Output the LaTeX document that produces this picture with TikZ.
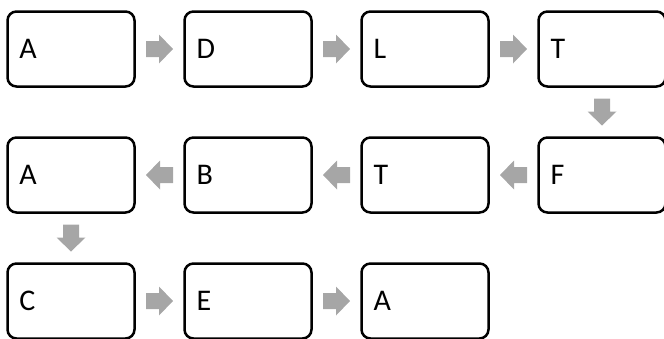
\documentclass[tikz,border=0pt]{standalone}
\usepackage{fontspec}
\setmainfont{Carlito}
\usetikzlibrary{calc,positioning}
\colorlet{arrowgray}{black!35}
\tikzstyle{box}=[draw,line width=2.5,rounded corners=9,outer sep=0,
  minimum width=127,minimum height=75,inner xsep=12,text width=103,align=left,
  font=\fontsize{30}{36}\selectfont]
\def\blockarrow#1#2#3{% from, to, angle
  \fill[arrowgray,shift={($(#1)!.5!(#2)$)},rotate=#3]
    (-13.5,-8) -- (-0.5,-8) -- (-0.5,-14.5) -- (13.5,0)
    -- (-0.5,14.5) -- (-0.5,8) -- (-13.5,8) -- cycle;
}

\begin{document}
\begin{tikzpicture}[x=1pt,y=1pt]
  \useasboundingbox (0,0) rectangle (664,-338);
  \clip (0,0) rectangle (664,-338);

  % FIRST ROW
  \node[box] (box1) at (71,-49) {A};
  \node[box,right=50 of box1] (box2) {D};
  \node[box,right=50 of box2] (box3) {L};
  \node[box,right=50 of box3] (box4) {T};

  % SECOND ROW
  \node[box,below=51 of box4] (box5) {F};
  \node[box,left=50 of box5] (box6) {T};
  \node[box,left=50 of box6] (box7) {B};
  \node[box,left=50 of box7] (box8) {A};

  % THIRD ROW
  \node[box,below=51 of box8] (box9) {C};
  \node[box,right=50 of box9] (box10) {E};
  \node[box,right=50 of box10] (box11) {A};

  % ARROWS
  \blockarrow{box1.east}{box2.west}{0}
  \blockarrow{box2.east}{box3.west}{0}
  \blockarrow{box3.east}{box4.west}{0}
  \blockarrow{box4.south}{box5.north}{-90}
  \blockarrow{box5.west}{box6.east}{180}
  \blockarrow{box6.west}{box7.east}{180}
  \blockarrow{box7.west}{box8.east}{180}
  \blockarrow{box8.south}{box9.north}{-90}
  \blockarrow{box9.east}{box10.west}{0}
  \blockarrow{box10.east}{box11.west}{0}
\end{tikzpicture}
\end{document}
